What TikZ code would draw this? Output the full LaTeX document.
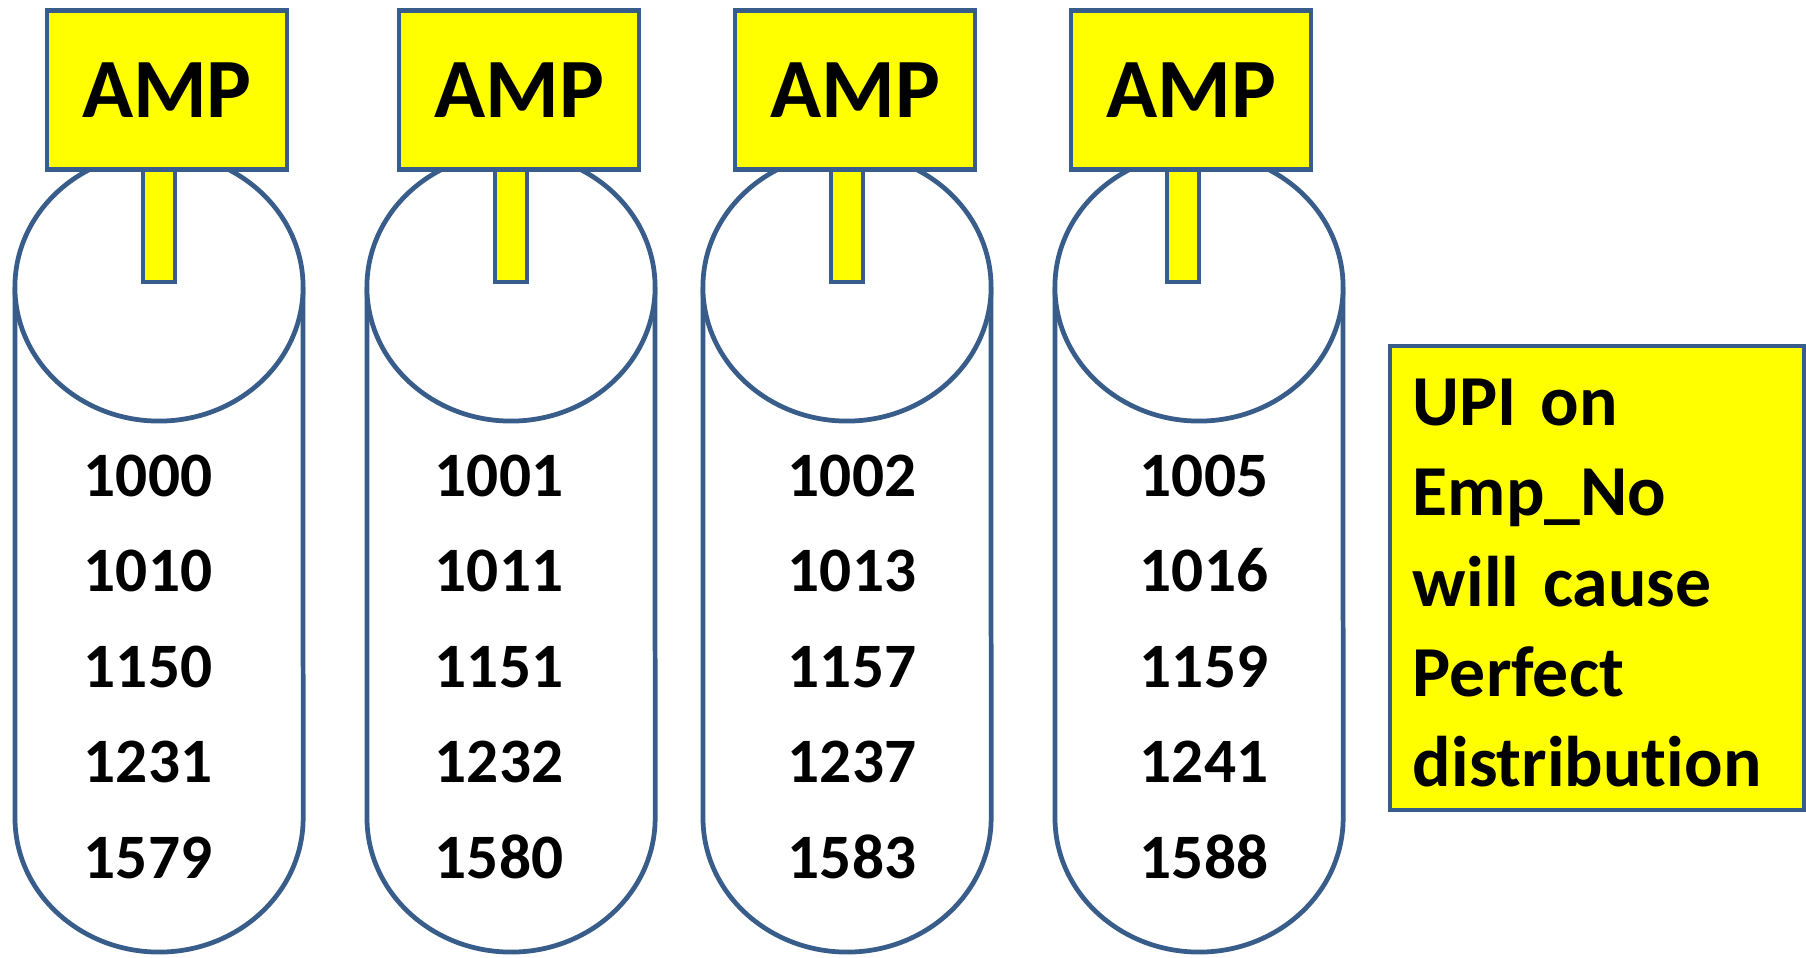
\documentclass[tikz,border=0pt]{standalone}
\usepackage{fontspec}
\setmainfont{Carlito}[Ligatures=NoCommon]
\usepackage{xcolor}
\usepackage{tikz}
\usetikzlibrary{positioning}
\definecolor{ampyellow}{HTML}{FFFF00}
\definecolor{ampblue}{HTML}{385D8A}

\begin{document}
\begin{tikzpicture}[x=0.01cm, y=-0.01cm, line width=1.35pt,
    ampbox/.style={draw=ampblue, fill=ampyellow, rectangle, inner sep=0pt,
        minimum width=2.40cm, minimum height=1.59cm,
        font=\fontsize{24}{28}\selectfont\bfseries},
    ampstem/.style={draw=ampblue, fill=ampyellow},
    cylbody/.style={draw=ampblue, fill=white},
    num/.style={anchor=base, inner sep=0pt, font=\fontsize{18}{22}\selectfont\bfseries},
    notetext/.style={inner sep=0pt, text width=3.68cm, align=left,
        font=\fontsize{20.4}{25.6}\selectfont\bfseries}]
    \useasboundingbox (0, 0) rectangle (1806, 957);

    % AMPs: cylinder, stem, label box and the rows each one holds
    \foreach \cx/\bx/\sx/\nx/\vals [count=\c] in {
        159/167/159/148/{1000,1010,1150,1231,1579},
        511/519/511/499/{1001,1011,1151,1232,1580},
        847/855/847/852/{1002,1013,1157,1237,1583},
        1199/1191/1183/1204/{1005,1016,1159,1241,1588}}{
        \path[cylbody] (\cx-144, 287) -- (\cx-144, 818)
            arc[start angle=180, end angle=360, x radius=1.44cm, y radius=1.34cm]
            -- (\cx+144, 287);
        \draw[cylbody] (\cx, 287) ellipse [x radius=1.44cm, y radius=1.34cm];
        \draw[ampstem] (\sx-16, 170) rectangle (\sx+16, 282);
        \node[ampbox] (amp\c) at (\bx, 90) {AMP};
        \foreach \v [count=\r] in \vals {
            \node[num] (row\c-\r) at (\nx, {496+95.5*(\r-1)}) {\v};
        }
    }

    % Note on the right
    \draw[draw=ampblue, fill=ampyellow] (1390, 346) rectangle (1804, 810);
    \node[notetext] (upi) at (1597, 583) {UPI on\\Emp\_No\\will cause\\Perfect\\distribution};
\end{tikzpicture}
\end{document}
